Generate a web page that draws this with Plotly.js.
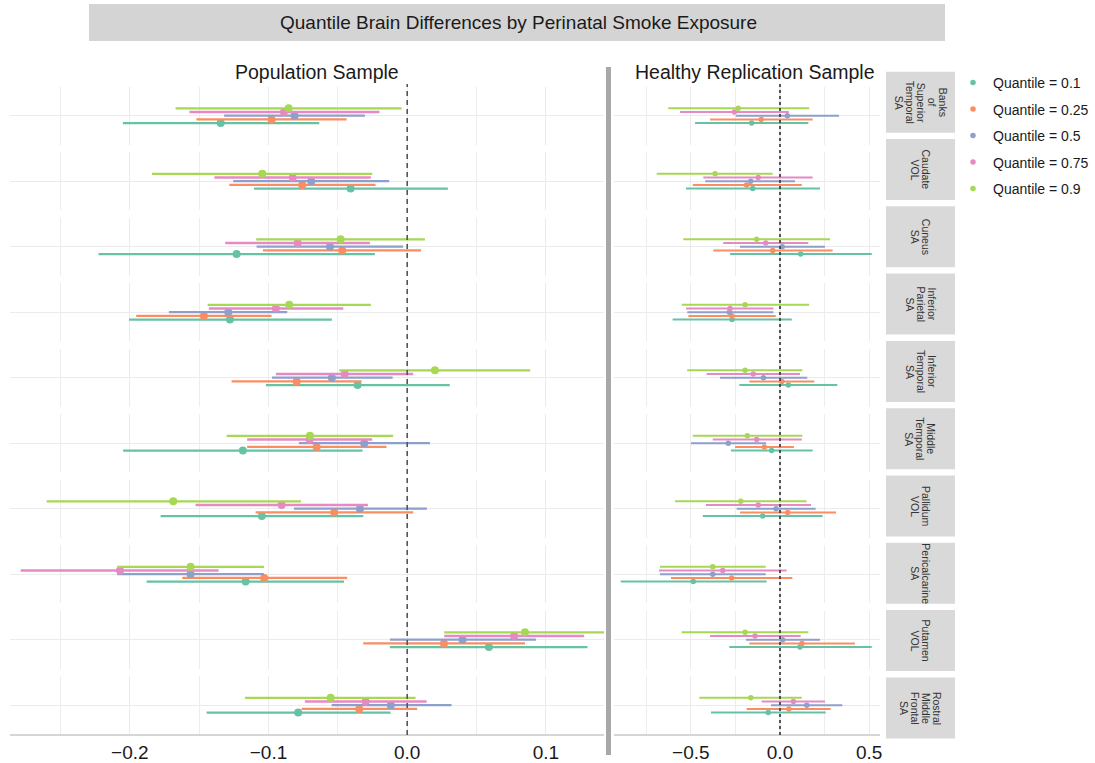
<!DOCTYPE html>
<html>
<head>
<meta charset="utf-8">
<script src="https://cdn.plot.ly/plotly-3.0.1.min.js"></script>
<style>html,body{margin:0;padding:0;background:#fff;}#chart{width:1095px;height:763px;}</style>
</head>
<body>
<div id="chart"></div>
<script>
// ---------- DATA ----------
const chartTitle = "Quantile Brain Differences by Perinatal Smoke Exposure";
const sampleNames = ["Population Sample", "Healthy Replication Sample"];
const regions = [
  ["Banks", "of", "Superior", "Temporal", "SA"],
  ["Caudate", "VOL"],
  ["Cuneus", "SA"],
  ["Inferior", "Parietal", "SA"],
  ["Inferior", "Temporal", "SA"],
  ["Middle", "Temporal", "SA"],
  ["Pallidum", "VOL"],
  ["Pericalcarine", "SA"],
  ["Putamen", "VOL"],
  ["Rostral", "Middle", "Frontal", "SA"]
];
const quantiles = ["0.1", "0.25", "0.5", "0.75", "0.9"];
const quantileColors = ["#66c2a5", "#fc8d62", "#8da0cb", "#e78ac3", "#a6d854"];
const popTicks = [-0.2, -0.1, 0.0, 0.1];
const repTicks = [-0.5, 0.0, 0.5];

// Population sample: rows = quantiles (0.1 .. 0.9), columns = regions
const popEst = [
  [-0.1345, -0.0408, -0.123, -0.1278, -0.0358, -0.1185, -0.1048, -0.1165, 0.0589, -0.0786],
  [-0.0978, -0.0757, -0.0469, -0.1466, -0.0797, -0.0653, -0.0526, -0.1031, 0.0265, -0.0346],
  [-0.0812, -0.0692, -0.0557, -0.129, -0.0543, -0.031, -0.0341, -0.1562, 0.0399, -0.0118],
  [-0.0889, -0.0826, -0.079, -0.0947, -0.0451, -0.0704, -0.0906, -0.2071, 0.0771, -0.030],
  [-0.0855, -0.1045, -0.048, -0.0851, 0.020, -0.0701, -0.1687, -0.1562, 0.0849, -0.0552]
];
const popLo = [
  [-0.205, -0.1105, -0.2225, -0.2006, -0.1019, -0.2048, -0.1778, -0.1879, -0.0125, -0.1446],
  [-0.152, -0.1283, -0.104, -0.1954, -0.1266, -0.1154, -0.1093, -0.1622, -0.0317, -0.0761],
  [-0.132, -0.1254, -0.1086, -0.1718, -0.0975, -0.0781, -0.0817, -0.2091, -0.0125, -0.0545],
  [-0.157, -0.139, -0.1312, -0.143, -0.0947, -0.1154, -0.1526, -0.2787, 0.0267, -0.0738],
  [-0.167, -0.184, -0.1089, -0.1439, -0.049, -0.1302, -0.260, -0.2091, 0.0267, -0.117]
];
const popHi = [
  [-0.0634, 0.0293, -0.0233, -0.0543, 0.0307, -0.0322, -0.0317, -0.0456, 0.130, -0.012],
  [-0.0437, -0.0228, 0.010, -0.0978, -0.0329, -0.0149, 0.0043, -0.0433, 0.0849, 0.0072],
  [-0.0305, -0.013, -0.0029, -0.0865, -0.0105, 0.0164, 0.0142, -0.1033, 0.0928, 0.032],
  [-0.020, -0.0262, -0.0269, -0.0461, 0.0043, -0.0252, -0.0283, -0.136, 0.1276, 0.014],
  [-0.004, -0.0252, 0.0128, -0.0262, 0.0887, -0.0101, -0.0766, -0.1033, 0.150, 0.006]
];

// Healthy replication sample
const repEst = [
  [-0.159, -0.153, 0.116, -0.269, 0.047, -0.047, -0.097, -0.486, 0.112, -0.066],
  [-0.105, -0.187, -0.041, -0.269, 0.01, -0.088, 0.043, -0.271, 0.123, 0.05],
  [0.041, -0.164, 0.013, -0.284, -0.093, -0.29, -0.022, -0.377, 0.015, 0.15],
  [-0.256, -0.122, -0.08, -0.28, -0.15, -0.131, -0.122, -0.321, -0.14, 0.075],
  [-0.234, -0.364, -0.131, -0.196, -0.196, -0.183, -0.22, -0.377, -0.196, -0.164]
];
const repLo = [
  [-0.476, -0.527, -0.28, -0.602, -0.228, -0.275, -0.433, -0.893, -0.284, -0.387],
  [-0.392, -0.489, -0.374, -0.514, -0.172, -0.252, -0.224, -0.611, -0.172, -0.187],
  [-0.248, -0.419, -0.224, -0.52, -0.336, -0.499, -0.243, -0.673, -0.191, -0.05],
  [-0.561, -0.43, -0.318, -0.527, -0.411, -0.377, -0.415, -0.678, -0.392, -0.103],
  [-0.626, -0.691, -0.542, -0.551, -0.52, -0.489, -0.589, -0.673, -0.551, -0.452]
];
const repHi = [
  [0.159, 0.224, 0.514, 0.066, 0.321, 0.183, 0.239, -0.075, 0.514, 0.256],
  [0.183, 0.122, 0.295, -0.024, 0.192, 0.078, 0.314, 0.069, 0.42, 0.284],
  [0.331, 0.084, 0.252, -0.037, 0.153, -0.078, 0.2, -0.08, 0.224, 0.349],
  [0.05, 0.183, 0.159, -0.037, 0.112, 0.122, 0.174, 0.037, 0.116, 0.252],
  [0.164, -0.041, 0.28, 0.163, 0.125, 0.125, 0.149, -0.08, 0.159, 0.122]
];

// ---------- LAYOUT HELPERS ----------
const W = 1095, H = 763;
const fx = px => px / W;
const fy = py => 1 - py / H;
const FONT = "Liberation Sans, Arial, Helvetica, sans-serif";

const panelTop = 115.7, panelStep = 65.5, panelHalf = 29;
const dodge = 0.1276;
const colDomains = [[fx(10), fx(604)], [fx(614), fx(880)]];
const colRanges = [[-0.2864, 0.1419], [-0.9305, 0.5605]];
const colMinor = [0.05, 0.25];
const colTicks = [popTicks, repTicks];
const markerSizes = [8, 5.5];
const lineWidths = [2.3, 2];

const samples = [
  {est: popEst, lo: popLo, hi: popHi},
  {est: repEst, lo: repLo, hi: repHi}
];

const traces = [];
const layout = {
  width: W, height: H,
  margin: {l: 0, r: 0, t: 0, b: 0},
  paper_bgcolor: "#ffffff",
  plot_bgcolor: "#ffffff",
  font: {family: FONT, color: "#1a1a1a"},
  showlegend: true,
  legend: {
    x: fx(953), y: fy(67), xanchor: "left", yanchor: "top",
    font: {size: 14, family: FONT, color: "#1a1a1a"},
    tracegroupgap: 5.3, bgcolor: "rgba(0,0,0,0)", itemwidth: 30
  },
  shapes: [],
  annotations: []
};

const nR = regions.length;
for (let r = 0; r < nR; r++) {
  const c = panelTop + panelStep * r;
  const ydom = [fy(c + panelHalf), fy(c - panelHalf)];
  for (let s = 0; s < 2; s++) {
    const idx = r * 2 + s + 1;
    const xName = idx === 1 ? "xaxis" : "xaxis" + idx;
    const yName = idx === 1 ? "yaxis" : "yaxis" + idx;
    const xId = idx === 1 ? "x" : "x" + idx;
    const yId = idx === 1 ? "y" : "y" + idx;
    const isBottom = r === nR - 1;
    layout[xName] = {
      domain: colDomains[s], anchor: yId, range: colRanges[s],
      tickmode: "array", tickvals: colTicks[s], tickformat: ".1f",
      showticklabels: isBottom, ticks: "",
      tickfont: {size: 19, family: FONT, color: "#1a1a1a"},
      showgrid: true, gridcolor: "#ebebeb", gridwidth: 1.2,
      minor: {tick0: 0, dtick: colMinor[s], showgrid: true, gridcolor: "#ededed", gridwidth: 1},
      zeroline: false, showline: isBottom, linecolor: "#d6d6d6", linewidth: 2,
      fixedrange: true
    };
    layout[yName] = {
      domain: ydom, anchor: xId, range: [-1, 1],
      tickmode: "array", tickvals: [0], showticklabels: false, ticks: "",
      showgrid: true, gridcolor: "#ebebeb", gridwidth: 1.2,
      zeroline: false, showline: false, fixedrange: true
    };
    const d = samples[s];
    for (let q = 0; q < quantiles.length; q++) {
      const est = d.est[q][r], lo = d.lo[q][r], hi = d.hi[q][r];
      traces.push({
        type: "scatter", mode: "markers",
        x: [est], y: [(q - 2) * dodge],
        xaxis: xId, yaxis: yId,
        name: "Quantile = " + quantiles[q],
        legendgroup: "q" + q,
        showlegend: (r === 0 && s === 1),
        marker: {color: quantileColors[q], size: markerSizes[s]},
        error_x: {type: "data", symmetric: false, array: [hi - est], arrayminus: [est - lo],
                  color: quantileColors[q], thickness: lineWidths[s], width: 0},
        hoverinfo: "x+name"
      });
    }
  }
}

// zero reference lines (continuous through all panels)
layout.shapes.push({type: "line", xref: "x", yref: "paper", x0: 0, x1: 0,
  y0: fy(735), y1: fy(84), layer: "above", line: {color: "#555555", width: 1.6, dash: "5px,4px"}});
layout.shapes.push({type: "line", xref: "x2", yref: "paper", x0: 0, x1: 0,
  y0: fy(735), y1: fy(84), layer: "above", line: {color: "#444444", width: 1.8, dash: "3px,3px"}});
// separator bar between samples
layout.shapes.push({type: "rect", xref: "paper", yref: "paper", x0: fx(606), x1: fx(611),
  y0: fy(755), y1: fy(67), fillcolor: "#a8a8a8", line: {width: 0}, layer: "above"});
// title box
layout.shapes.push({type: "rect", xref: "paper", yref: "paper", x0: fx(89), x1: fx(945),
  y0: fy(41), y1: fy(4), fillcolor: "#d4d4d4", line: {width: 0}, layer: "below"});
layout.annotations.push({text: chartTitle, xref: "paper", yref: "paper", x: fx(518), y: fy(22.5),
  xanchor: "center", yanchor: "middle", showarrow: false, font: {size: 19, family: FONT, color: "#1a1a1a"}});
// sample titles
layout.annotations.push({text: sampleNames[0], xref: "paper", yref: "paper", x: fx(317), y: fy(72),
  xanchor: "center", yanchor: "middle", showarrow: false, font: {size: 19.5, family: FONT, color: "#1a1a1a"}});
layout.annotations.push({text: sampleNames[1], xref: "paper", yref: "paper", x: fx(755), y: fy(72),
  xanchor: "center", yanchor: "middle", showarrow: false, font: {size: 19.5, family: FONT, color: "#1a1a1a"}});

// facet strips
const stripTop = 71.7, stripStep = 67.3, stripH = 61, stripX0 = 886, stripX1 = 955;
for (let r = 0; r < nR; r++) {
  const t = stripTop + stripStep * r;
  layout.shapes.push({type: "rect", xref: "paper", yref: "paper", x0: fx(stripX0), x1: fx(stripX1),
    y0: fy(t + stripH), y1: fy(t), fillcolor: "#d9d9d9", line: {width: 0}, layer: "below"});
  const lines = regions[r];
  const n = lines.length;
  for (let j = 0; j < n; j++) {
    layout.annotations.push({text: lines[j], xref: "paper", yref: "paper",
      x: fx((stripX0 + stripX1) / 2), y: fy(t + stripH / 2),
      xshift: ((n - 1) / 2 - j) * 11, textangle: 90,
      xanchor: "center", yanchor: "middle", showarrow: false,
      font: {size: 10.5, family: FONT, color: "#333333"}});
  }
}

Plotly.newPlot("chart", traces, layout, {displayModeBar: false, staticPlot: true});
</script>
</body>
</html>
